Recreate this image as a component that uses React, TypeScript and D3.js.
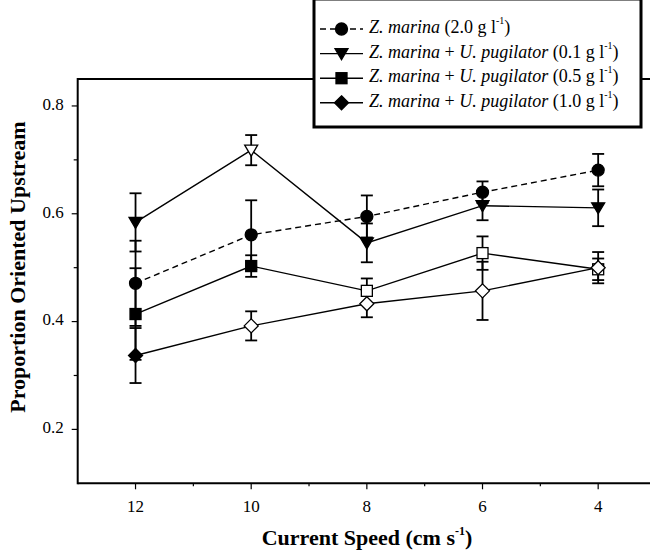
import React from "react";
import * as d3 from "d3";

const speeds = [12, 10, 8, 6, 4];

const marinaMean = [0.471, 0.561, 0.595, 0.64, 0.681];
const marinaErr = [0.079, 0.064, 0.039, 0.02, 0.03];
const marinaFilled = [true, true, true, true, true];

const pug01Mean = [0.584, 0.718, 0.546, 0.615, 0.611];
const pug01Err = [0.054, 0.028, 0.036, 0.027, 0.034];
const pug01Filled = [true, false, true, true, true];

const pug05Mean = [0.414, 0.503, 0.457, 0.527, 0.497];
const pug05Err = [0.085, 0.02, 0.023, 0.031, 0.02];
const pug05Filled = [true, true, false, false, false];

const pug10Mean = [0.337, 0.392, 0.433, 0.457, 0.5];
const pug10Err = [0.051, 0.027, 0.025, 0.054, 0.029];
const pug10Filled = [true, false, false, false, false];

const yMajor = [0.2, 0.4, 0.6, 0.8];
const yMinor = [0.3, 0.5, 0.7];
const xMajor = [12, 10, 8, 6, 4];
const xMinor = [11, 9, 7, 5];

const series = [
    { mean: marinaMean, err: marinaErr, filled: marinaFilled, shape: "circle", dashed: true, conc: "2.0", pug: false },
    { mean: pug01Mean, err: pug01Err, filled: pug01Filled, shape: "triangle", dashed: false, conc: "0.1", pug: true },
    { mean: pug05Mean, err: pug05Err, filled: pug05Filled, shape: "square", dashed: false, conc: "0.5", pug: true },
    { mean: pug10Mean, err: pug10Err, filled: pug10Filled, shape: "diamond", dashed: false, conc: "1.0", pug: true }
];

const layout = {
    width: 650,
    height: 553,
    left: 77.7,
    right: 656,
    top: 79,
    bottom: 483.3
};

const font = "'Liberation Serif', 'Times New Roman', serif";

const x = d3.scaleLinear().domain([13, 3]).range([layout.left, layout.right]);
const y = d3.scaleLinear().domain([0.1, 0.85]).range([layout.bottom, layout.top]);

function Marker({ shape, cx, cy, filled }) {
    const fill = filled ? "#000" : "#fff";
    const common = { fill, stroke: "#000", strokeWidth: 1.3 };
    if (shape === "circle") return <circle cx={cx} cy={cy} r={6} {...common} />;
    if (shape === "square") return <rect x={cx - 5.5} y={cy - 5.5} width={11} height={11} {...common} />;
    if (shape === "triangle")
        return <path d={`M${cx - 6.5},${cy - 5} L${cx + 6.5},${cy - 5} L${cx},${cy + 6} Z`} {...common} />;
    return <path d={`M${cx},${cy - 7} L${cx + 7},${cy} L${cx},${cy + 7} L${cx - 7},${cy} Z`} {...common} />;
}

function LegendLabel({ s, tx, ty }) {
    return (
        <text x={tx} y={ty} fontFamily={font} fontSize={18} dominantBaseline="middle">
            <tspan fontStyle="italic">Z. marina</tspan>
            {s.pug && <tspan> + </tspan>}
            {s.pug && <tspan fontStyle="italic">U. pugilator</tspan>}
            <tspan>{` (${s.conc} g l`}</tspan>
            <tspan fontSize={10} dy={-7}>-1</tspan>
            <tspan dy={7}>)</tspan>
        </text>
    );
}

export default function App() {
    const line = d3.line<number>();

    return (
        <svg
            width={layout.width}
            height={layout.height}
            style={{ position: "absolute", left: 0, top: 0, background: "#fff" }}
        >
            {/* frame */}
            <line x1={layout.left} x2={layout.right} y1={layout.top} y2={layout.top} stroke="#000" strokeWidth={2} />
            <line x1={layout.left} x2={layout.right} y1={layout.bottom} y2={layout.bottom} stroke="#000" strokeWidth={2} />
            <line x1={layout.left} x2={layout.left} y1={layout.top - 1} y2={layout.bottom + 1} stroke="#000" strokeWidth={2} />

            {/* y ticks */}
            {yMajor.map(t => (
                <g key={"ym" + t}>
                    <line x1={layout.left - 6} x2={layout.left} y1={y(t)} y2={y(t)} stroke="#000" strokeWidth={1.2} />
                    <text x={layout.left - 14} y={y(t)} textAnchor="end" dominantBaseline="middle" fontFamily={font} fontSize={17}>
                        {t.toFixed(1)}
                    </text>
                </g>
            ))}
            {yMinor.map(t => (
                <line key={"yn" + t} x1={layout.left - 4} x2={layout.left} y1={y(t)} y2={y(t)} stroke="#000" strokeWidth={1.2} />
            ))}

            {/* x ticks */}
            {xMajor.map(t => (
                <g key={"xm" + t}>
                    <line x1={x(t)} x2={x(t)} y1={layout.bottom} y2={layout.bottom + 6} stroke="#000" strokeWidth={1.2} />
                    <text x={x(t)} y={layout.bottom + 25} textAnchor="middle" dominantBaseline="middle" fontFamily={font} fontSize={17}>
                        {t}
                    </text>
                </g>
            ))}
            {xMinor.map(t => (
                <line key={"xn" + t} x1={x(t)} x2={x(t)} y1={layout.bottom} y2={layout.bottom + 3} stroke="#000" strokeWidth={1.2} />
            ))}

            {/* axis titles */}
            <text x={367} y={540} textAnchor="middle" dominantBaseline="middle" fontFamily={font} fontSize={22} fontWeight="bold">
                Current Speed (cm s<tspan fontSize={12} dy={-8}>-1</tspan>
                <tspan dy={8}>)</tspan>
            </text>
            <text
                transform={`translate(20, ${(layout.top + layout.bottom) / 2 - 14}) rotate(-90)`}
                textAnchor="middle"
                dominantBaseline="middle"
                fontFamily={font}
                fontSize={22}
                fontWeight="bold"
            >
                Proportion Oriented Upstream
            </text>

            {/* series lines */}
            {series.map((s, i) => (
                <path
                    key={"l" + i}
                    d={line(s.mean.map((m, j) => [x(speeds[j]), y(m)]))}
                    fill="none"
                    stroke="#000"
                    strokeWidth={1.4}
                    strokeDasharray={s.dashed ? "6,4" : undefined}
                />
            ))}

            {/* error bars */}
            {series.map((s, i) =>
                s.mean.map((m, j) => {
                    const cx = x(speeds[j]);
                    const hi = y(m + s.err[j]);
                    const lo = y(m - s.err[j]);
                    return (
                        <g key={"e" + i + "-" + j} stroke="#000" strokeWidth={1.8}>
                            <line x1={cx} x2={cx} y1={hi} y2={lo} />
                            <line x1={cx - 6} x2={cx + 6} y1={hi} y2={hi} />
                            <line x1={cx - 6} x2={cx + 6} y1={lo} y2={lo} />
                        </g>
                    );
                })
            )}

            {/* markers */}
            {series.map((s, i) =>
                s.mean.map((m, j) => (
                    <Marker key={"m" + i + "-" + j} shape={s.shape} cx={x(speeds[j])} cy={y(m)} filled={s.filled[j]} />
                ))
            )}

            {/* legend */}
            <rect x={314} y={-1} width={327} height={128} fill="#fff" stroke="#000" strokeWidth={3} />
            {series.map((s, i) => {
                const ly = 29 + i * 24.6;
                return (
                    <g key={"lg" + i}>
                        <line
                            x1={320}
                            x2={363}
                            y1={ly}
                            y2={ly}
                            stroke="#000"
                            strokeWidth={1.4}
                            strokeDasharray={s.dashed ? "6,4" : undefined}
                        />
                        <Marker shape={s.shape} cx={341.5} cy={ly} filled={true} />
                        <LegendLabel s={s} tx={369} ty={ly} />
                    </g>
                );
            })}
        </svg>
    );
}
